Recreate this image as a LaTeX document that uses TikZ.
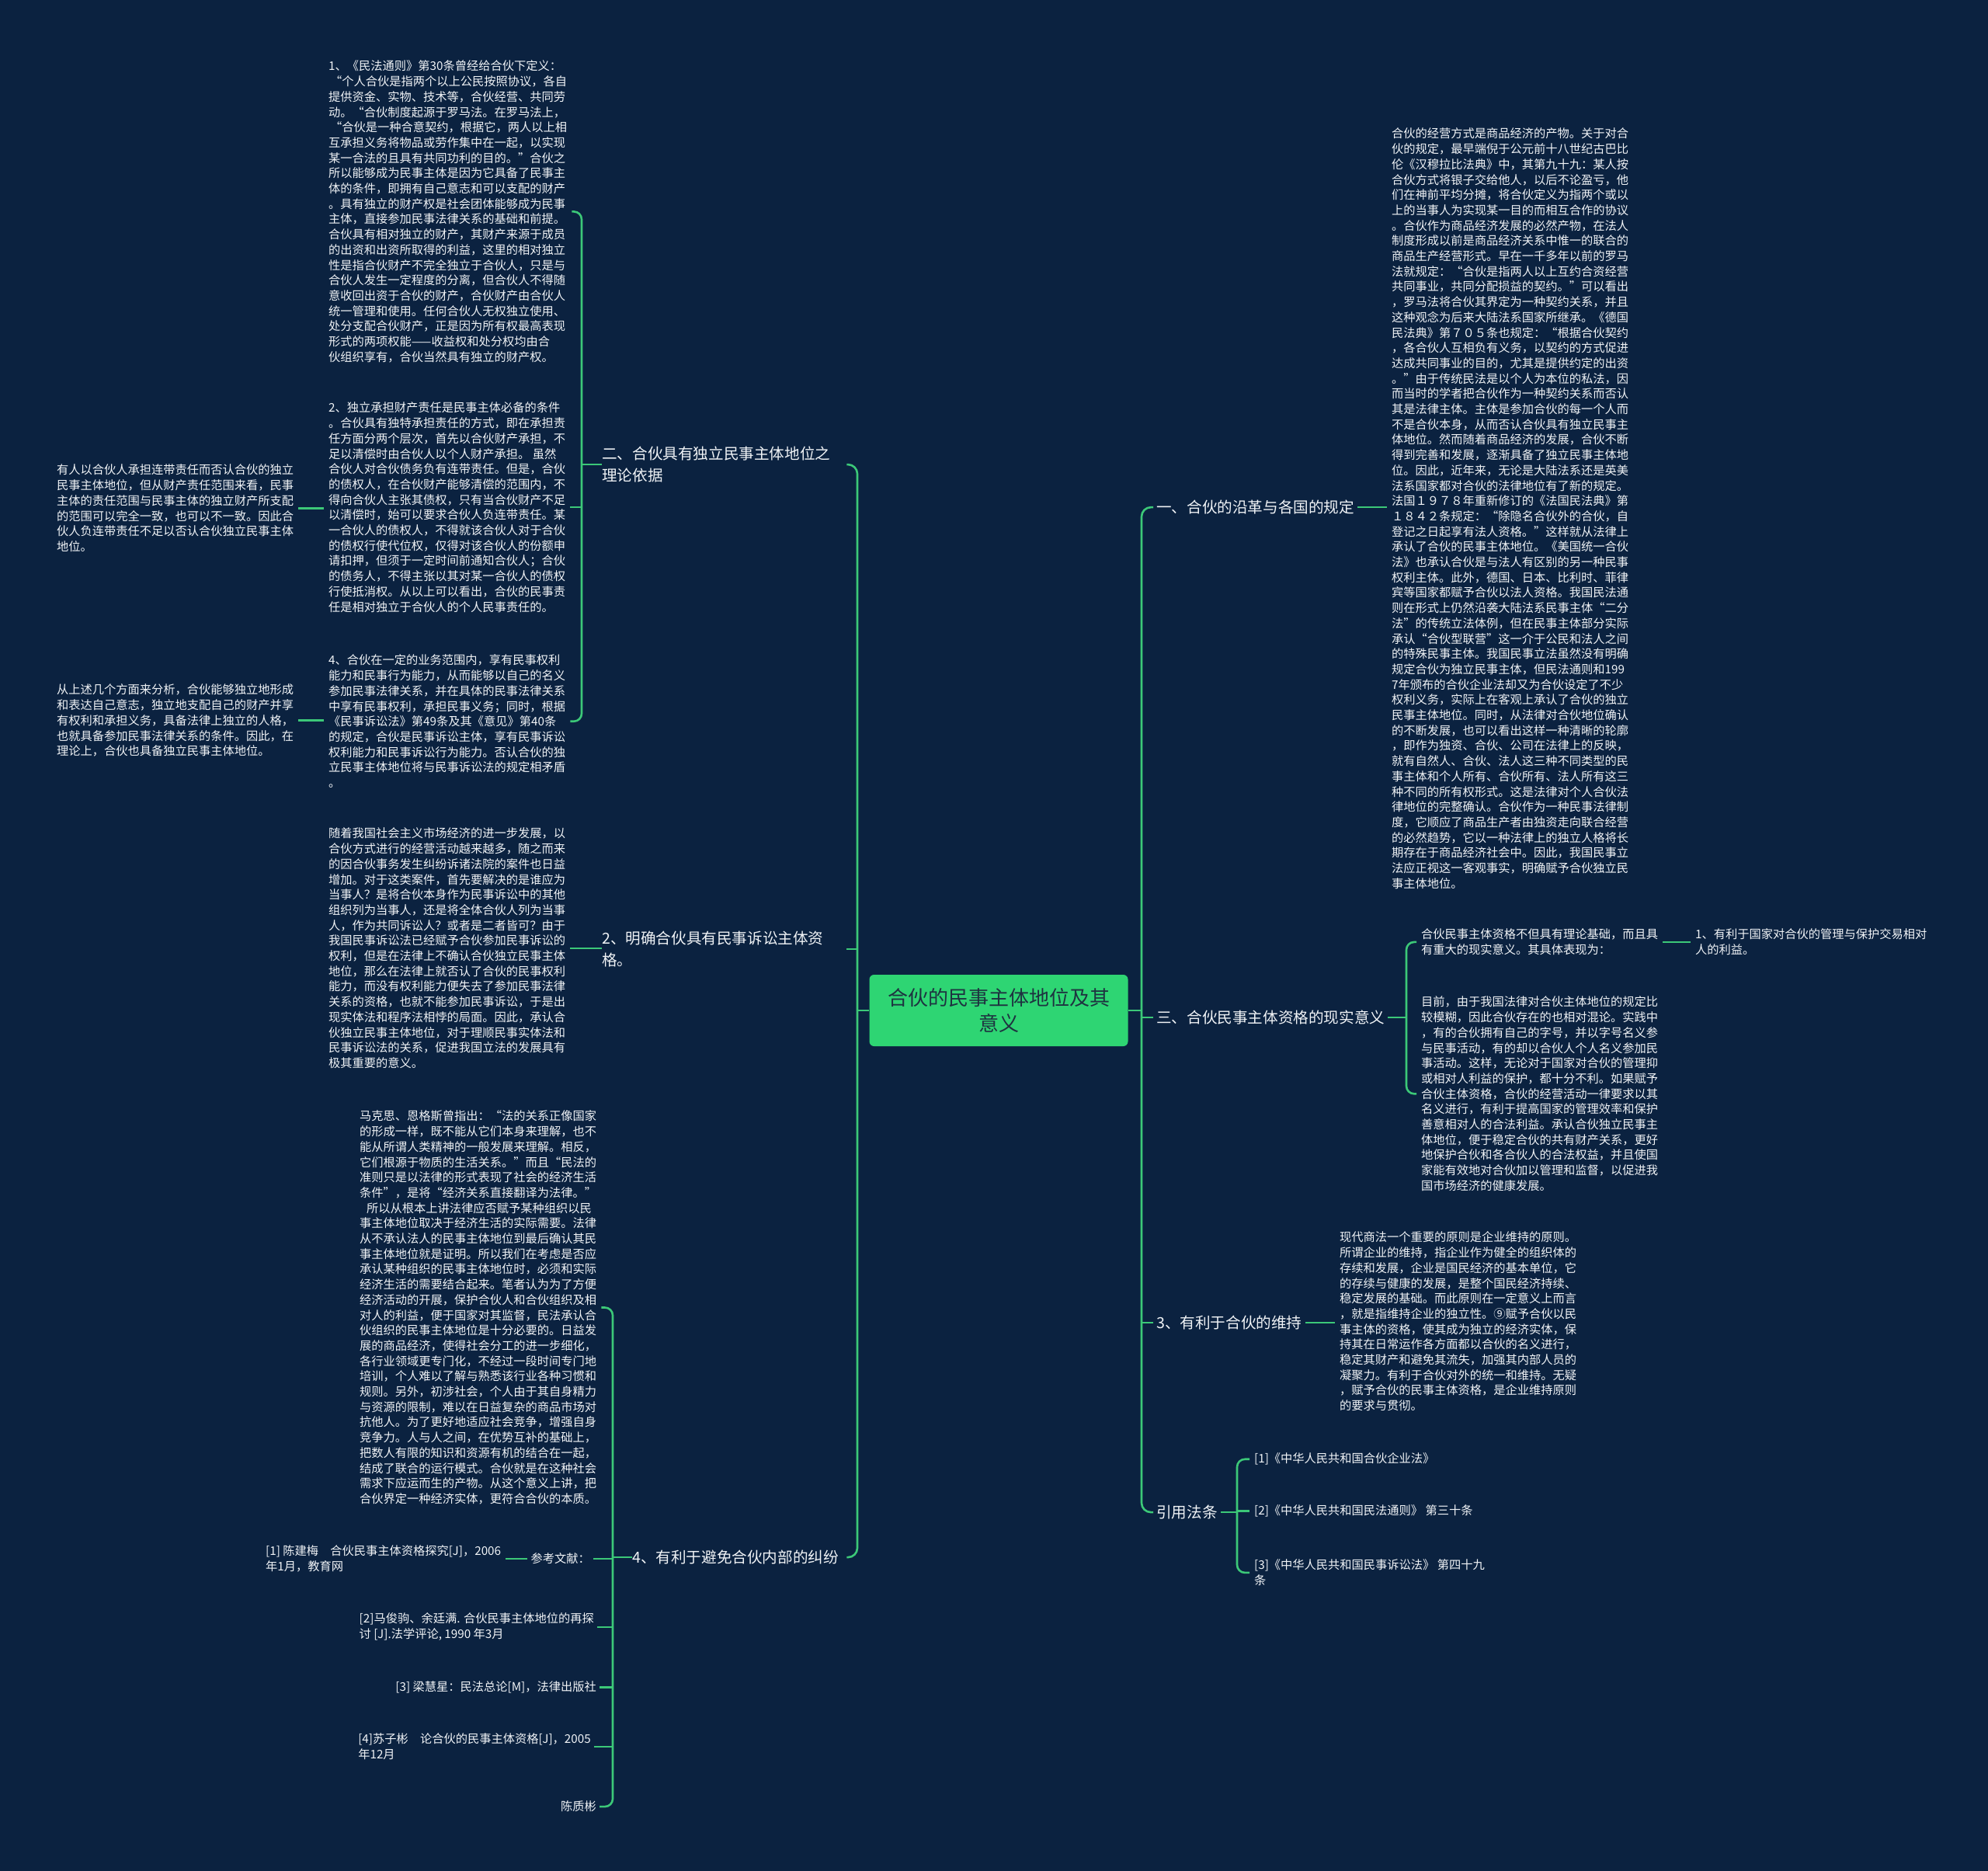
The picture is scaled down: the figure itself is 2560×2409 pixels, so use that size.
\documentclass[tikz,border=0pt]{standalone}
\usepackage{fontspec}
\setmainfont{Noto Sans CJK SC}
\definecolor{bgc}{HTML}{0B2240}
\definecolor{linec}{HTML}{3CC878}
\definecolor{cfill}{HTML}{2ED573}
\definecolor{txtc}{HTML}{F0F3F6}
\definecolor{ctxt}{HTML}{1E3340}
\tikzset{
  blk/.style={anchor=north west, align=left, inner xsep=6pt, inner ysep=0pt, text=txtc, font=\fontsize{15.25}{19.7}\selectfont},
  blkr/.style={blk, anchor=north east, inner xsep=4pt},
  lbl/.style={anchor=north west, align=left, inner xsep=0pt, inner ysep=0pt, text=txtc, font=\fontsize{19.6}{28}\selectfont},
  lblr/.style={lbl, inner xsep=4pt},
  conn/.style={draw=linec, line width=2.6pt},
  centerbox/.style={fill=cfill, rounded corners=6pt, minimum width=333pt, minimum height=92pt, align=center, text=ctxt, inner sep=0pt, font=\fontsize{26}{33}\selectfont},
}
\begin{document}
\begin{tikzpicture}[x=1pt,y=-1pt]
\fill[bgc] (0,0) rectangle (2560,2409);
\useasboundingbox (0,0) rectangle (2560,2409);

% center
\node[centerbox] (cen) at (1286,1301) {合伙的民事主体地位及其\\意义};

% left branch labels
\node[lbl, text width=315pt] (l1) at (775,574.8) {二、合伙具有独立民事主体地位之\\理论依据};
\node[lbl, text width=315pt] (l2) at (775,1198.8) {2、明确合伙具有民事诉讼主体资\\格。};
\node[lbl, text width=276pt] (l3) at (814,1995.8) {4、有利于避免合伙内部的纠纷};

% right branch labels
\node[lblr] (r1) at (1485,643.8) {一、合伙的沿革与各国的规定};
\node[lblr] (r2) at (1485,1300.8) {三、合伙民事主体资格的现实意义};
\node[lblr] (r3) at (1485,1693.8) {3、有利于合伙的维持};
\node[lblr] (r4) at (1485,1937.8) {引用法条};

% left blocks
\node[blk] (A) at (417,77.8) {1、《民法通则》第30条曾经给合伙下定义：\\
\hspace*{2pt}“个人合伙是指两个以上公民按照协议，各自\\
提供资金、实物、技术等，合伙经营、共同劳\\
动。“合伙制度起源于罗马法。在罗马法上，\\
\hspace*{2pt}“合伙是一种合意契约，根据它，两人以上相\\
互承担义务将物品或劳作集中在一起，以实现\\
某一合法的且具有共同功利的目的。”合伙之\\
所以能够成为民事主体是因为它具备了民事主\\
体的条件，即拥有自己意志和可以支配的财产\\
。具有独立的财产权是社会团体能够成为民事\\
主体，直接参加民事法律关系的基础和前提。\\
合伙具有相对独立的财产，其财产来源于成员\\
的出资和出资所取得的利益，这里的相对独立\\
性是指合伙财产不完全独立于合伙人，只是与\\
合伙人发生一定程度的分离，但合伙人不得随\\
意收回出资于合伙的财产，合伙财产由合伙人\\
统一管理和使用。任何合伙人无权独立使用、\\
处分支配合伙财产，正是因为所有权最高表现\\
形式的两项权能——收益权和处分权均由合\\
伙组织享有，合伙当然具有独立的财产权。};

\node[blk] (B) at (417,517.8) {2、独立承担财产责任是民事主体必备的条件\\
。合伙具有独特承担责任的方式，即在承担责\\
任方面分两个层次，首先以合伙财产承担，不\\
足以清偿时由合伙人以个人财产承担。 虽然\\
合伙人对合伙债务负有连带责任。但是，合伙\\
的债权人，在合伙财产能够清偿的范围内，不\\
得向合伙人主张其债权，只有当合伙财产不足\\
以清偿时，始可以要求合伙人负连带责任。某\\
一合伙人的债权人，不得就该合伙人对于合伙\\
的债权行使代位权，仅得对该合伙人的份额申\\
请扣押，但须于一定时间前通知合伙人；合伙\\
的债务人，不得主张以其对某一合伙人的债权\\
行使抵消权。从以上可以看出，合伙的民事责\\
任是相对独立于合伙人的个人民事责任的。};

\node[blk] (C) at (417,842.8) {4、合伙在一定的业务范围内，享有民事权利\\
能力和民事行为能力，从而能够以自己的名义\\
参加民事法律关系，并在具体的民事法律关系\\
中享有民事权利，承担民事义务；同时，根据\\
《民事诉讼法》第49条及其《意见》第40条\\
的规定，合伙是民事诉讼主体，享有民事诉讼\\
权利能力和民事诉讼行为能力。否认合伙的独\\
立民事主体地位将与民事诉讼法的规定相矛盾\\
。};

\node[blk] (D) at (67,597.8) {有人以合伙人承担连带责任而否认合伙的独立\\
民事主体地位，但从财产责任范围来看，民事\\
主体的责任范围与民事主体的独立财产所支配\\
的范围可以完全一致，也可以不一致。因此合\\
伙人负连带责任不足以否认合伙独立民事主体\\
地位。};

\node[blk] (E) at (67,880.8) {从上述几个方面来分析，合伙能够独立地形成\\
和表达自己意志，独立地支配自己的财产并享\\
有权利和承担义务，具备法律上独立的人格，\\
也就具备参加民事法律关系的条件。因此，在\\
理论上，合伙也具备独立民事主体地位。};

\node[blk] (F) at (417,1065.8) {随着我国社会主义市场经济的进一步发展，以\\
合伙方式进行的经营活动越来越多，随之而来\\
的因合伙事务发生纠纷诉诸法院的案件也日益\\
增加。对于这类案件，首先要解决的是谁应为\\
当事人？是将合伙本身作为民事诉讼中的其他\\
组织列为当事人，还是将全体合伙人列为当事\\
人，作为共同诉讼人？或者是二者皆可？由于\\
我国民事诉讼法已经赋予合伙参加民事诉讼的\\
权利，但是在法律上不确认合伙独立民事主体\\
地位，那么在法律上就否认了合伙的民事权利\\
能力，而没有权利能力便失去了参加民事法律\\
关系的资格，也就不能参加民事诉讼，于是出\\
现实体法和程序法相悖的局面。因此，承认合\\
伙独立民事主体地位，对于理顺民事实体法和\\
民事诉讼法的关系，促进我国立法的发展具有\\
极其重要的意义。};

\node[blk] (G) at (457,1429.8) {马克思、恩格斯曾指出：“法的关系正像国家\\
的形成一样，既不能从它们本身来理解，也不\\
能从所谓人类精神的一般发展来理解。相反，\\
它们根源于物质的生活关系。”而且“民法的\\
准则只是以法律的形式表现了社会的经济生活\\
条件”，是将“经济关系直接翻译为法律。”\\
\hspace*{9pt}所以从根本上讲法律应否赋予某种组织以民\\
事主体地位取决于经济生活的实际需要。法律\\
从不承认法人的民事主体地位到最后确认其民\\
事主体地位就是证明。所以我们在考虑是否应\\
承认某种组织的民事主体地位时，必须和实际\\
经济生活的需要结合起来。笔者认为为了方便\\
经济活动的开展，保护合伙人和合伙组织及相\\
对人的利益，便于国家对其监督，民法承认合\\
伙组织的民事主体地位是十分必要的。日益发\\
展的商品经济，使得社会分工的进一步细化，\\
各行业领域更专门化，不经过一段时间专门地\\
培训，个人难以了解与熟悉该行业各种习惯和\\
规则。另外，初涉社会，个人由于其自身精力\\
与资源的限制，难以在日益复杂的商品市场对\\
抗他人。为了更好地适应社会竞争，增强自身\\
竞争力。人与人之间，在优势互补的基础上，\\
把数人有限的知识和资源有机的结合在一起，\\
结成了联合的运行模式。合伙就是在这种社会\\
需求下应运而生的产物。从这个意义上讲，把\\
合伙界定一种经济实体，更符合合伙的本质。};

% references (left)
\node[blk] (H1) at (336,1989.8) {[1] 陈建梅　合伙民事主体资格探究[J]，2006\\年1月，教育网};
\node[blkr] (H0) at (764,1999.8) {参考文献：};
\node[blkr] (H2) at (769,2076.8) {[2]马俊驹、余廷满. 合伙民事主体地位的再探\\讨 [J].法学评论, 1990 年3月};
\node[blkr] (H3) at (772,2164.8) {[3] 梁慧星：民法总论[M]，法律出版社};
\node[blkr] (H4) at (765,2231.8) {[4]苏子彬　论合伙的民事主体资格[J]，2005\\年12月};
\node[blkr] (H5) at (772,2318.8) {陈质彬};

% right blocks
\node[blk] (I) at (1786,164.8) {合伙的经营方式是商品经济的产物。关于对合\\
伙的规定，最早端倪于公元前十八世纪古巴比\\
伦《汉穆拉比法典》中，其第九十九：某人按\\
合伙方式将银子交给他人，以后不论盈亏，他\\
们在神前平均分摊，将合伙定义为指两个或以\\
上的当事人为实现某一目的而相互合作的协议\\
。合伙作为商品经济发展的必然产物，在法人\\
制度形成以前是商品经济关系中惟一的联合的\\
商品生产经营形式。早在一千多年以前的罗马\\
法就规定：“合伙是指两人以上互约合资经营\\
共同事业，共同分配损益的契约。”可以看出\\
，罗马法将合伙其界定为一种契约关系，并且\\
这种观念为后来大陆法系国家所继承。《德国\\
民法典》第７０５条也规定：“根据合伙契约\\
，各合伙人互相负有义务，以契约的方式促进\\
达成共同事业的目的，尤其是提供约定的出资\\
。”由于传统民法是以个人为本位的私法，因\\
而当时的学者把合伙作为一种契约关系而否认\\
其是法律主体。主体是参加合伙的每一个人而\\
不是合伙本身，从而否认合伙具有独立民事主\\
体地位。然而随着商品经济的发展，合伙不断\\
得到完善和发展，逐渐具备了独立民事主体地\\
位。因此，近年来，无论是大陆法系还是英美\\
法系国家都对合伙的法律地位有了新的规定。\\
法国１９７８年重新修订的《法国民法典》第\\
１８４２条规定：“除隐名合伙外的合伙，自\\
登记之日起享有法人资格。”这样就从法律上\\
承认了合伙的民事主体地位。《美国统一合伙\\
法》也承认合伙是与法人有区别的另一种民事\\
权利主体。此外，德国、日本、比利时、菲律\\
宾等国家都赋予合伙以法人资格。我国民法通\\
则在形式上仍然沿袭大陆法系民事主体“二分\\
法”的传统立法体例，但在民事主体部分实际\\
承认“合伙型联营”这一介于公民和法人之间\\
的特殊民事主体。我国民事立法虽然没有明确\\
规定合伙为独立民事主体，但民法通则和199\\
7年颁布的合伙企业法却又为合伙设定了不少\\
权利义务，实际上在客观上承认了合伙的独立\\
民事主体地位。同时，从法律对合伙地位确认\\
的不断发展，也可以看出这样一种清晰的轮廓\\
，即作为独资、合伙、公司在法律上的反映，\\
就有自然人、合伙、法人这三种不同类型的民\\
事主体和个人所有、合伙所有、法人所有这三\\
种不同的所有权形式。这是法律对个人合伙法\\
律地位的完整确认。合伙作为一种民事法律制\\
度，它顺应了商品生产者由独资走向联合经营\\
的必然趋势，它以一种法律上的独立人格将长\\
期存在于商品经济社会中。因此，我国民事立\\
法应正视这一客观事实，明确赋予合伙独立民\\
事主体地位。};

\node[blk] (a) at (1824,1195.8) {合伙民事主体资格不但具有理论基础，而且具\\有重大的现实意义。其具体表现为：};
\node[blk] (a1) at (2177,1195.8) {1、有利于国家对合伙的管理与保护交易相对\\人的利益。};

\node[blk] (b) at (1824,1282.8) {目前，由于我国法律对合伙主体地位的规定比\\
较模糊，因此合伙存在的也相对混论。实践中\\
，有的合伙拥有自己的字号，并以字号名义参\\
与民事活动，有的却以合伙人个人名义参加民\\
事活动。这样，无论对于国家对合伙的管理抑\\
或相对人利益的保护，都十分不利。如果赋予\\
合伙主体资格，合伙的经营活动一律要求以其\\
名义进行，有利于提高国家的管理效率和保护\\
善意相对人的合法利益。承认合伙独立民事主\\
体地位，便于稳定合伙的共有财产关系，更好\\
地保护合伙和各合伙人的合法权益，并且使国\\
家能有效地对合伙加以管理和监督，以促进我\\
国市场经济的健康发展。};

\node[blk] (J) at (1719,1585.8) {现代商法一个重要的原则是企业维持的原则。\\
所谓企业的维持，指企业作为健全的组织体的\\
存续和发展，企业是国民经济的基本单位，它\\
的存续与健康的发展，是整个国民经济持续、\\
稳定发展的基础。而此原则在一定意义上而言\\
，就是指维持企业的独立性。⑨赋予合伙以民\\
事主体的资格，使其成为独立的经济实体，保\\
持其在日常运作各方面都以合伙的名义进行，\\
稳定其财产和避免其流失，加强其内部人员的\\
凝聚力。有利于合伙对外的统一和维持。无疑\\
，赋予合伙的民事主体资格，是企业维持原则\\
的要求与贯彻。};

\node[blk] (R1) at (1609,1870.8) {[1]《中华人民共和国合伙企业法》};
\node[blk] (R2) at (1609,1937.8) {[2]《中华人民共和国民法通则》 第三十条};
\node[blk] (R3) at (1609,2007.8) {[3]《中华人民共和国民事诉讼法》 第四十九\\条};

% spine coordinates
\coordinate (sL) at (1104,1301);
\coordinate (sR) at (1470,1301);
\coordinate (b1) at (749,600);
\coordinate (b4) at (789,2000);
\coordinate (b3) at (1811,1300);
\coordinate (bR) at (1593,1945);

% main spines
\draw[conn, rounded corners=12pt] (l1.east) -| (sL) |- (l3.east);
\draw[conn] (cen.west) -- (cen.west -| sL);
\draw[conn] (l2.east) -- (l2.east -| sL);
\draw[conn, rounded corners=12pt] (r1.west) -| (sR) |- (r4.west);
\draw[conn] (cen.east) -- (cen.east -| sR);
\draw[conn] (r2.west) -- (r2.west -| sR);
\draw[conn] (r3.west) -- (r3.west -| sR);

% left sub-branches
\draw[conn, rounded corners=10pt] (A.east) -| (b1) |- (C.east);
\draw[conn] (B.east) -- (B.east -| b1);
\draw[conn] (l1.west) -- (l1.west -| b1);
\draw[conn] (D.east) -- (B.west |- D.east);
\draw[conn] (E.east) -- (C.west |- E.east);
\draw[conn] (F.east) -- (l2.west |- F.east);
\draw[conn, rounded corners=10pt] (G.east) -| (b4) |- (H5.east);
\draw[conn] (H0.east) -- (H0.east -| b4);
\draw[conn] (H2.east) -- (H2.east -| b4);
\draw[conn] (H3.east) -- (H3.east -| b4);
\draw[conn] (H4.east) -- (H4.east -| b4);
\draw[conn] (l3.west) -- (l3.west -| b4);
\draw[conn] (H1.east) -- (H0.west |- H1.east);

% right sub-branches
\draw[conn] (r1.east) -- (I.west |- r1.east);
\draw[conn, rounded corners=10pt] (a.west) -| (b3) |- (b.west);
\draw[conn] (r2.east) -- (b3 |- r2.east);
\draw[conn] (a.east) -- (a1.west |- a.east);
\draw[conn] (r3.east) -- (J.west |- r3.east);
\draw[conn, rounded corners=10pt] (R1.west) -| (bR) |- (R3.west);
\draw[conn] (R2.west) -- (bR |- R2.west);
\draw[conn] (r4.east) -- (bR |- r4.east);
\end{tikzpicture}
\end{document}
